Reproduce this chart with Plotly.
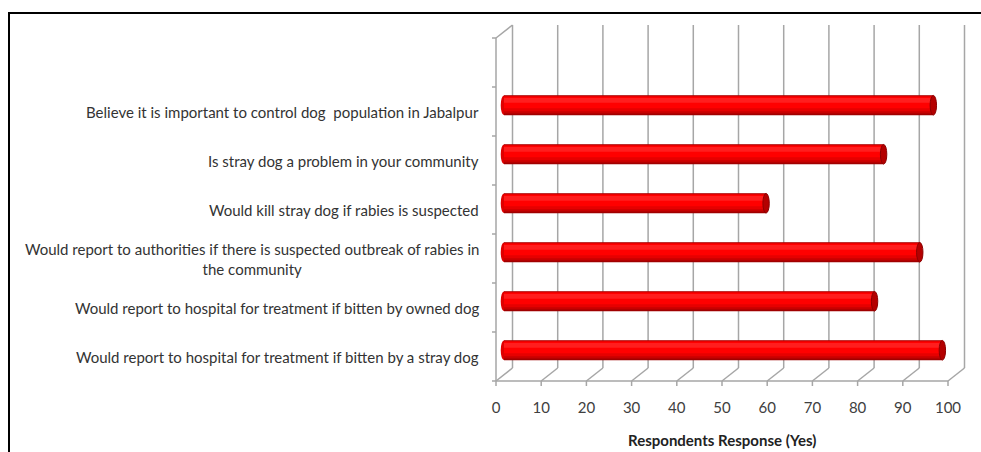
import plotly.graph_objects as go

# ---------------- data ----------------
categories = [
    "Would report to hospital for treatment if bitten by a stray dog",
    "Would report to hospital for treatment if bitten by owned dog",
    "Would report to authorities if there is suspected outbreak of rabies in<br>the community",
    "Would kill stray dog if rabies is suspected",
    "Is stray dog a problem in your community",
    "Believe it is important to control dog  population in Jabalpur",
]
values = [97, 82, 92, 58, 84, 95]
x_ticks = [0, 10, 20, 30, 40, 50, 60, 70, 80, 90, 100]
x_title = "Respondents Response (Yes)"

# ---------------- geometry (pixel layout of the pseudo-3D box) ----------------
W, H = 981, 452
PX0, PXS = 496.0, 4.52      # pixel of x=0 on front plane, px per unit
PY0, PYS = 381.0, 49.0      # pixel of y=-0.5 on front plane, px per category
ML, MR, MT, MB = 488, 8, 20, 60
pw, ph = W - ML - MR, H - MT - MB

def xd(px):
    return (px - PX0) / PXS

def yd(py):
    return -0.5 + (PY0 - py) / PYS

def xp(px):
    return (px - ML) / pw

def yp(py):
    return (H - MB - py) / ph

xr = [xd(ML), xd(W - MR)]
yr = [yd(H - MB), yd(MT)]

DX = 16.5 / PXS            # depth offset in x units
DY = 13.0 / PYS            # depth offset in y units
DEPTH = 0.48               # bars sit at this fraction of depth
n = len(categories)
ylo, yhi = -0.5, n + 0.5   # one empty slot on top, like the original
GRID = "#A6A6A6"

shapes = []
def line(x0, y0, x1, y1, layer="below", color=GRID, w=1.5):
    shapes.append(dict(type="line", xref="x", yref="y", x0=x0, y0=y0, x1=x1, y1=y1,
                       line=dict(color=color, width=w), layer=layer))

# back wall gridlines + floor diagonals + front tick marks
for t in x_ticks:
    line(t + DX, ylo + DY, t + DX, yhi + DY)
    line(t, ylo, t + DX, ylo + DY)
    line(t, ylo, t, ylo - 5 / PYS)
# front floor edge and front left edge
line(x_ticks[0], ylo, x_ticks[-1], ylo)
line(0, ylo, 0, yhi)
line(0, yhi, DX, yhi + DY)
# left category tick marks
k = ylo
while k <= yhi + 1e-9:
    line(0, k, -4 / PXS, k)
    k += 1

# ---------------- cylinder bars ----------------
base = DEPTH * DX
yc = [i + DEPTH * DY for i in range(n)]
layers = [  # (lower offset, upper offset, color)
    (-0.205, 0.205, "#A00000"),
    (-0.17, 0.195, "#C80000"),
    (-0.12, 0.185, "#E60000"),
    (-0.06, 0.175, "#FF0000"),
    (0.05, 0.15, "#FF1E1E"),
]
fig = go.Figure()
for lo, hi, col in layers:
    fig.add_trace(go.Bar(
        x=values, y=yc, base=[base] * n, orientation="h",
        width=hi - lo, offset=lo, marker=dict(color=col, line=dict(width=0)),
        hoverinfo="skip", showlegend=False,
    ))

CAPW = 3.2 / PXS
for v, y in zip(values, yc):
    # rounded back end
    shapes.append(dict(type="circle", xref="x", yref="y", x0=base - CAPW, x1=base + CAPW,
                       y0=y - 0.2, y1=y + 0.2, fillcolor="#E00000",
                       line=dict(width=0), layer="between"))
    # visible end cap
    shapes.append(dict(type="circle", xref="x", yref="y", x0=base + v - CAPW, x1=base + v + CAPW,
                       y0=y - 0.2, y1=y + 0.2, fillcolor="#B40000",
                       line=dict(color="#8C0000", width=1), layer="above"))

# outer black frame (left/top visible)
shapes.append(dict(type="rect", xref="paper", yref="paper",
                   x0=xp(9), x1=xp(W + 20), y0=yp(13), y1=yp(H + 20),
                   line=dict(color="#000000", width=2), fillcolor="rgba(0,0,0,0)"))

# ---------------- labels ----------------
annotations = []
for i, c in enumerate(categories):
    annotations.append(dict(x=xp(481), xref="paper", y=i, yref="y", text=c, showarrow=False,
                            xanchor="right", yanchor="middle", align="center",
                            font=dict(family="Lato", size=15, color="#333333")))
annotations.append(dict(x=(x_ticks[0] + x_ticks[-1]) / 2, xref="x", y=yp(440), yref="paper",
                        text="<b>" + x_title + "</b>", showarrow=False,
                        xanchor="center", yanchor="middle",
                        font=dict(family="Lato", size=15, color="#222222")))

fig.update_layout(
    width=W, height=H,
    margin=dict(l=ML, r=MR, t=MT, b=MB),
    paper_bgcolor="white", plot_bgcolor="white",
    barmode="overlay",
    shapes=shapes, annotations=annotations,
    xaxis=dict(range=xr, showgrid=False, zeroline=False, showline=False,
               tickvals=x_ticks, ticks="", ticklabelstandoff=5,
               tickfont=dict(family="Lato", size=15, color="#404040")),
    yaxis=dict(range=yr, showgrid=False, zeroline=False, showline=False,
               showticklabels=False, ticks=""),
)
fig.write_html("out.html")
